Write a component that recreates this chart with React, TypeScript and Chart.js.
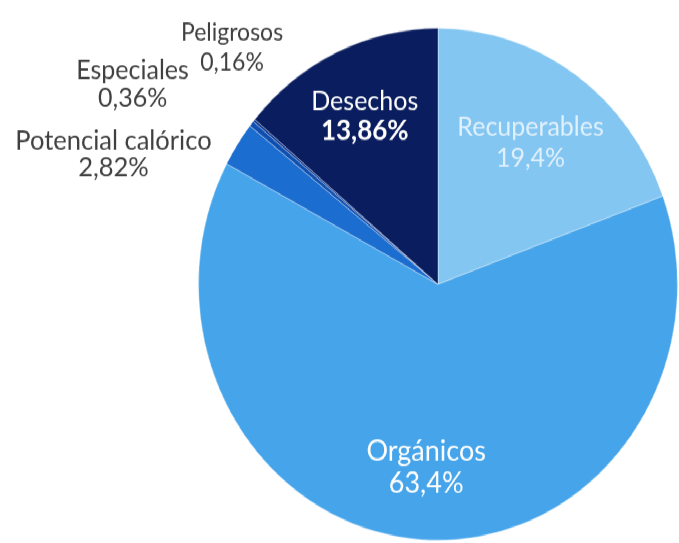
import React, { useEffect, useRef } from "react";
import { Chart, registerables } from "chart.js";

Chart.register(...registerables);

const categories = ["Recuperables", "Orgánicos", "Potencial calórico", "Especiales", "Peligrosos", "Desechos"];
const values = [19.4, 63.4, 2.82, 0.36, 0.16, 13.86];
const valueLabels = ["19,4%", "63,4%", "2,82%", "0,36%", "0,16%", "13,86%"];
const sliceColors = ["#84c6f2", "#45a4ea", "#1b6dcf", "#0f4fb0", "#0b3590", "#0a1d5e"];

// label styling: inside labels placed at fraction of radius, outside labels offset from outer edge
type LabelStyle = {
  inside: boolean;
  frac?: number;
  dx?: number;
  dy?: number;
  color: string;
  nameSize: number;
  valueSize: number;
  gap: number;
  boldValue?: boolean;
};
const labelStyles: LabelStyle[] = [
  { inside: true, frac: 0.675, color: "rgba(255,255,255,0.75)", nameSize: 25, valueSize: 25, gap: 29 },
  { inside: true, frac: 0.716, color: "#ffffff", nameSize: 27, valueSize: 27, gap: 30 },
  { inside: false, dx: -124, dy: 9, color: "#404040", nameSize: 25.5, valueSize: 25.5, gap: 25 },
  { inside: false, dx: -119, dy: -37, color: "#404040", nameSize: 25, valueSize: 25, gap: 26 },
  { inside: false, dx: -22, dy: -68, color: "#404040", nameSize: 23, valueSize: 23, gap: 28 },
  { inside: true, frac: 0.725, color: "#ffffff", nameSize: 25, valueSize: 26, gap: 28, boldValue: true },
];

const FONT = "Lato, 'Open Sans', sans-serif";

const labelPlugin = {
  id: "sliceLabels",
  afterDatasetsDraw(chart: any) {
    const ctx = chart.ctx;
    const meta = chart.getDatasetMeta(0);
    ctx.save();
    ctx.textAlign = "center";
    ctx.textBaseline = "middle";
    meta.data.forEach((arc: any, i: number) => {
      const st = labelStyles[i];
      const { x, y, startAngle, endAngle, outerRadius } = arc.getProps(
        ["x", "y", "startAngle", "endAngle", "outerRadius"],
        true
      );
      const mid = (startAngle + endAngle) / 2;
      let cx: number, cy: number;
      if (st.inside) {
        cx = x + Math.cos(mid) * outerRadius * (st.frac || 0.7);
        cy = y + Math.sin(mid) * outerRadius * (st.frac || 0.7);
      } else {
        cx = x + Math.cos(mid) * outerRadius + (st.dx || 0);
        cy = y + Math.sin(mid) * outerRadius + (st.dy || 0);
      }
      ctx.fillStyle = st.color;
      ctx.font = `400 ${st.nameSize}px ${FONT}`;
      ctx.fillText(categories[i], cx, cy - st.gap / 2);
      ctx.font = `${st.boldValue ? 700 : 400} ${st.valueSize}px ${FONT}`;
      ctx.fillText(valueLabels[i], cx, cy + st.gap / 2);
    });
    ctx.restore();
  },
};

export default function App() {
  const canvasRef = useRef<HTMLCanvasElement | null>(null);

  useEffect(() => {
    if (!canvasRef.current) return;
    const chart = new Chart(canvasRef.current, {
      type: "pie",
      data: {
        labels: categories,
        datasets: [
          {
            data: values,
            backgroundColor: sliceColors,
            borderColor: "rgba(255,255,255,0.35)",
            borderWidth: 1,
          },
        ],
      },
      options: {
        animation: false,
        responsive: true,
        maintainAspectRatio: false,
        layout: { padding: { left: 198, right: 1, top: 26, bottom: 2 } },
        plugins: {
          legend: { display: false },
          tooltip: { enabled: false },
        },
      },
      plugins: [labelPlugin],
    });
    return () => chart.destroy();
  }, []);

  return (
    <div
      style={{
        position: "absolute",
        left: 0,
        top: 0,
        width: 679,
        height: 508,
        transform: "scaleY(1.0689)",
        transformOrigin: "0 0",
        background: "#ffffff",
      }}
    >
      <canvas ref={canvasRef} />
    </div>
  );
}
